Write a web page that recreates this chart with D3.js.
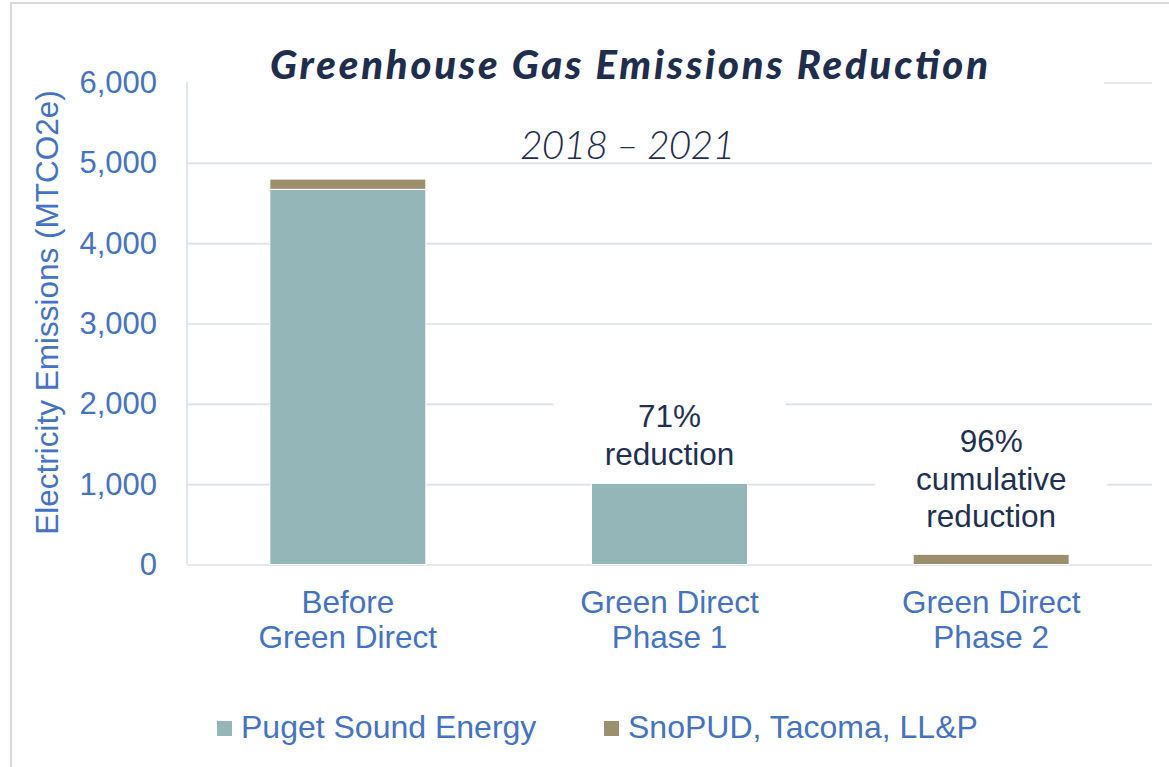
<!DOCTYPE html>
<html>
<head>
<meta charset="utf-8">
<script src="https://cdn.jsdelivr.net/npm/d3@7"></script>
<style>
  html, body { margin: 0; padding: 0; background: #fff; }
  svg { display: block; font-family: "Liberation Sans", Arial, sans-serif; }
</style>
</head>
<body>
<div id="chart"></div>
<script>
// Chart data
const categories = ['Before|Green Direct', 'Green Direct|Phase 1', 'Green Direct|Phase 2'];
const pseValues = [4670, 1010, 0];
const snoValues = [128, 0, 127];
const seriesNames = ['Puget Sound Energy', 'SnoPUD, Tacoma, LL&P'];
const yTicks = [0, 1000, 2000, 3000, 4000, 5000, 6000];
const annotations = [
    { cat: 1, lines: ['71%', 'reduction'] },
    { cat: 2, lines: ['96%', 'cumulative', 'reduction'] }
];

const width = 1169, height = 767;
const colors = ['#95b6b9', '#9c8f6e'];
const blue = '#4472c4';
const navy = '#1f3050';
const gridColor = '#dae0ef';

const svg = d3.select('#chart').append('svg')
    .attr('width', width)
    .attr('height', height);

// Outer frame
svg.append('rect')
    .attr('x', 11).attr('y', 3)
    .attr('width', 1200).attr('height', 800)
    .attr('fill', '#fff')
    .attr('stroke', '#d9d9d9')
    .attr('stroke-width', 2);

const plot = { left: 187, right: 1152, top: 82.5, bottom: 564.5 };

const x = d3.scaleBand()
    .domain(d3.range(categories.length))
    .range([plot.left, plot.right])
    .paddingInner(0.515)
    .paddingOuter(0.2575);

const y = d3.scaleLinear()
    .domain([0, 6000])
    .range([plot.bottom, plot.top]);

// Gridlines
svg.append('g')
    .attr('transform', `translate(${plot.left},0)`)
    .call(d3.axisLeft(y).tickValues(yTicks).tickSize(-(plot.right - plot.left)).tickFormat(''))
    .call(g => g.select('.domain').remove())
    .call(g => g.selectAll('line').attr('stroke', gridColor).attr('stroke-width', 1.6));

// Vertical axis line
svg.append('line')
    .attr('x1', plot.left).attr('x2', plot.left)
    .attr('y1', plot.top).attr('y2', plot.bottom)
    .attr('stroke', gridColor)
    .attr('stroke-width', 1.6);

// Y tick labels
svg.append('g')
    .attr('transform', `translate(${plot.left},0)`)
    .call(d3.axisLeft(y).tickValues(yTicks).tickSize(0).tickPadding(30).tickFormat(d3.format(',')))
    .call(g => g.select('.domain').remove())
    .call(g => g.selectAll('text')
        .attr('fill', blue)
        .style('font-size', '31px')
        .style('font-family', '"Liberation Sans", Arial, sans-serif'));

// Stacked bars
const stackData = categories.map((c, i) => ({ i, pse: pseValues[i], sno: snoValues[i] }));
const stacked = d3.stack().keys(['pse', 'sno'])(stackData);

svg.append('g').selectAll('g')
    .data(stacked)
    .join('g')
    .attr('fill', (d, k) => colors[k])
    .selectAll('rect')
    .data(d => d.filter(s => s[1] - s[0] > 0))
    .join('rect')
    .attr('x', d => x(d.data.i))
    .attr('width', x.bandwidth())
    .attr('y', d => y(d[1]))
    .attr('height', d => y(d[0]) - y(d[1]))
    .attr('stroke', '#fff')
    .attr('stroke-width', 1);

// White text-box backgrounds (they hide the gridlines behind them)
svg.append('rect')
    .attr('x', plot.left + 1).attr('y', 40)
    .attr('width', 1104 - plot.left - 1).attr('height', 53)
    .attr('fill', '#fff');

const boxW = 232;
annotations.forEach((a, k) => {
    const cx = x(a.cat) + x.bandwidth() / 2;
    const top = k === 0 ? 396 : 414;
    const h = k === 0 ? 80 : 128;
    svg.append('rect')
        .attr('x', cx - boxW / 2).attr('y', top)
        .attr('width', boxW).attr('height', h)
        .attr('fill', '#fff');
});

// Title
svg.append('text')
    .attr('x', 270).attr('y', 79)
    .attr('textLength', 718)
    .attr('lengthAdjust', 'spacing')
    .attr('fill', '#1f2d4f')
    .style('font-family', 'Lato, "Open Sans", sans-serif')
    .style('font-weight', 900)
    .style('font-style', 'italic')
    .style('font-size', '40px')
    .text('Greenhouse Gas Emissions Reduction');

svg.append('text')
    .attr('x', 520).attr('y', 159)
    .attr('textLength', 215)
    .attr('lengthAdjust', 'spacing')
    .attr('fill', '#1f2d4f')
    .style('font-family', 'Lato, "Open Sans", sans-serif')
    .style('font-weight', 300)
    .style('font-style', 'italic')
    .style('font-size', '39px')
    .text('2018 – 2021');

// Y axis title
svg.append('text')
    .attr('transform', `translate(58,${(85 + 540) / 2}) rotate(-90)`)
    .attr('text-anchor', 'middle')
    .attr('fill', blue)
    .style('font-size', '31.5px')
    .text('Electricity Emissions (MTCO2e)');

// X category labels
svg.append('g').selectAll('text')
    .data(categories)
    .join('text')
    .attr('text-anchor', 'middle')
    .attr('fill', blue)
    .style('font-size', '31.5px')
    .attr('x', (d, i) => x(i) + x.bandwidth() / 2)
    .attr('y', 613)
    .selectAll('tspan')
    .data(d => d.split('|'))
    .join('tspan')
    .attr('x', function () { return d3.select(this.parentNode).attr('x'); })
    .attr('dy', (d, j) => j === 0 ? 0 : 35)
    .text(d => d);

// Annotations
annotations.forEach((a, k) => {
    const cx = x(a.cat) + x.bandwidth() / 2;
    const base = k === 0 ? 427 : 452;
    svg.append('text')
        .attr('text-anchor', 'middle')
        .attr('fill', navy)
        .style('font-size', '31.5px')
        .attr('y', base)
        .selectAll('tspan')
        .data(a.lines)
        .join('tspan')
        .attr('x', cx)
        .attr('dy', (d, j) => j === 0 ? 0 : 37.5)
        .text(d => d);
});

// Legend
const legendX = [217, 604];
const legend = svg.append('g').selectAll('g')
    .data(seriesNames)
    .join('g')
    .attr('transform', (d, i) => `translate(${legendX[i]},721)`);

legend.append('rect')
    .attr('width', 15).attr('height', 15)
    .attr('fill', (d, i) => colors[i]);

legend.append('text')
    .attr('x', 24).attr('y', 17)
    .attr('fill', blue)
    .style('font-size', '32px')
    .text(d => d);
</script>
</body>
</html>
